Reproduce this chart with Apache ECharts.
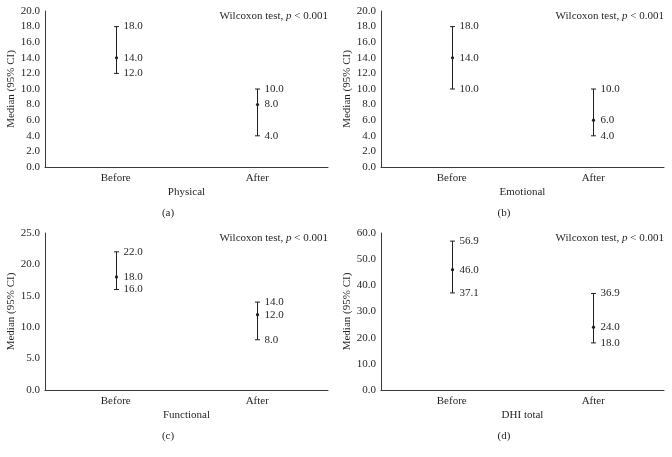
<!DOCTYPE html>
<html><head><meta charset="utf-8">
<script src="https://cdn.jsdelivr.net/npm/echarts@6/dist/echarts.min.js"></script>
<style>html,body{margin:0;padding:0;background:#fff}#c{width:672px;height:457px}</style>
</head><body><div id="c"></div>
<script>
var categories = ['Before', 'After'];
var panelNames = ['Physical', 'Emotional', 'Functional', 'DHI total'];
var panelTags = ['(a)', '(b)', '(c)', '(d)'];
var physicalMedian = [14.0, 8.0], physicalLow = [12.0, 4.0], physicalHigh = [18.0, 10.0];
var emotionalMedian = [14.0, 6.0], emotionalLow = [10.0, 4.0], emotionalHigh = [18.0, 10.0];
var functionalMedian = [18.0, 12.0], functionalLow = [16.0, 8.0], functionalHigh = [22.0, 14.0];
var dhiMedian = [46.0, 24.0], dhiLow = [37.1, 18.0], dhiHigh = [56.9, 36.9];
var yMax = [20, 20, 25, 60];
var yInterval = [2, 2, 5, 10];
var testText = 'Wilcoxon test, ';

var medians = [physicalMedian, emotionalMedian, functionalMedian, dhiMedian];
var lows = [physicalLow, emotionalLow, functionalLow, dhiLow];
var highs = [physicalHigh, emotionalHigh, functionalHigh, dhiHigh];

var FONT = 'Liberation Serif';
var TXT = '#231f20';
var grids = [
  {left: 45, top: 11, width: 283, height: 156},
  {left: 381, top: 11, width: 283, height: 156},
  {left: 45, top: 233, width: 283, height: 157},
  {left: 381, top: 233, width: 283, height: 157}
];
var panelCenters = [[168, 208], [504, 208], [168, 431], [504, 431]];

var xAxes = [], yAxes = [], series = [], titles = [];
for (var i = 0; i < 4; i++) {
  xAxes.push({
    gridIndex: i, type: 'category', data: categories, boundaryGap: true,
    axisLine: {lineStyle: {color: '#3a3a3a', width: 1}},
    axisTick: {show: false},
    axisLabel: {color: TXT, fontFamily: FONT, fontSize: 11, margin: 6},
    name: panelNames[i], nameLocation: 'middle', nameGap: 20,
    nameTextStyle: {color: TXT, fontFamily: FONT, fontSize: 11}
  });
  yAxes.push({
    gridIndex: i, type: 'value', min: 0, max: yMax[i], interval: yInterval[i],
    axisLine: {show: true, lineStyle: {color: '#3a3a3a', width: 1}},
    axisTick: {show: false},
    splitLine: {show: false},
    axisLabel: {color: TXT, fontFamily: FONT, fontSize: 11, margin: 5,
      formatter: function (v) { return v.toFixed(1); }},
    name: 'Median (95% CI)', nameLocation: 'middle', nameGap: 27,
    nameTextStyle: {color: TXT, fontFamily: FONT, fontSize: 11}
  });
  var data = [];
  for (var k = 0; k < categories.length; k++) {
    data.push([k, medians[i][k], lows[i][k], highs[i][k]]);
  }
  series.push({
    type: 'custom', xAxisIndex: i, yAxisIndex: i, data: data,
    encode: {x: 0, y: [1, 2, 3]},
    renderItem: function (params, api) {
      var pm = api.coord([api.value(0), api.value(1)]);
      var pl = api.coord([api.value(0), api.value(2)]);
      var ph = api.coord([api.value(0), api.value(3)]);
      var st = {stroke: '#231f20', lineWidth: 1};
      var x = Math.round(pm[0]) + 0.5;
      var tx = x + 7;
      var ts = function (val, y) {
        return {type: 'text', style: {text: val.toFixed(1), x: tx, y: y, fill: TXT,
          font: '11px "Liberation Serif"', textAlign: 'left', textVerticalAlign: 'middle'}};
      };
      return {type: 'group', children: [
        {type: 'line', shape: {x1: x, y1: pl[1], x2: x, y2: ph[1]}, style: st},
        {type: 'line', shape: {x1: x - 2.5, y1: pl[1], x2: x + 2.5, y2: pl[1]}, style: st},
        {type: 'line', shape: {x1: x - 2.5, y1: ph[1], x2: x + 2.5, y2: ph[1]}, style: st},
        {type: 'circle', shape: {cx: x, cy: pm[1], r: 1.6}, style: {fill: '#231f20'}},
        ts(api.value(3), ph[1]), ts(api.value(1), pm[1]), ts(api.value(2), pl[1])
      ]};
    }
  });
  titles.push({
    text: testText + '{it|p} < 0.001',
    right: 672 - (grids[i].left + grids[i].width), top: grids[i].top,
    textStyle: {color: TXT, fontFamily: FONT, fontSize: 11, fontWeight: 'normal',
      rich: {it: {fontStyle: 'italic', fontFamily: FONT, fontSize: 11, color: TXT}}},
    padding: 0
  });
  titles.push({
    text: panelTags[i], left: panelCenters[i][0], top: panelCenters[i][1], textAlign: 'center',
    textStyle: {color: TXT, fontFamily: FONT, fontSize: 11, fontWeight: 'normal'}, padding: 0
  });
}

var chart = echarts.init(document.getElementById('c'));
chart.setOption({
  animation: false,
  backgroundColor: '#fff',
  title: titles,
  grid: grids,
  xAxis: xAxes,
  yAxis: yAxes,
  series: series
});
</script></body></html>
